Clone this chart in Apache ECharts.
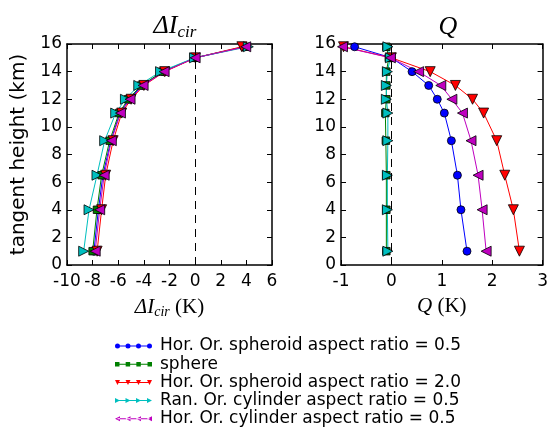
<!DOCTYPE html>
<html>
<head>
<meta charset="utf-8">
<script src="https://cdn.jsdelivr.net/npm/echarts@6/dist/echarts.min.js"></script>
<style>
  html, body { margin: 0; padding: 0; background: #fff; }
  #chart { width: 551px; height: 428px; }
</style>
</head>
<body>
<div id="chart"></div>
<script>
// Tangent heights (km) shared by every profile
const heights = [1, 4, 6.5, 9, 11, 12, 13, 14, 15, 15.8];

// Series names, in plotting order
const names = [
  'Hor. Or. spheroid aspect ratio = 0.5',
  'sphere',
  'Hor. Or. spheroid aspect ratio = 2.0',
  'Ran. Or. cylinder aspect ratio = 0.5',
  'Hor. Or. cylinder aspect ratio = 0.5'
];

// ΔI_cir (K) profiles
const dIcirSpheroid05 = [-7.9, -7.55, -7.2, -6.58, -5.87, -5.15, -4.12, -2.48, 0.0, 3.8];
const dIcirSphere     = [-8.0, -7.66, -7.3, -6.67, -5.94, -5.23, -4.2, -2.55, 0.0, 3.9];
const dIcirSpheroid20 = [-7.65, -7.3, -6.98, -6.4, -5.73, -5.0, -4.0, -2.37, 0.02, 3.65];
const dIcirRanCyl05   = [-8.7, -8.28, -7.66, -7.06, -6.2, -5.44, -4.4, -2.7, -0.05, 4.15];
const dIcirHorCyl05   = [-7.8, -7.45, -7.1, -6.54, -5.83, -5.08, -4.06, -2.42, 0.0, 3.95];

// Q (K) profiles
const qSpheroid05 = [1.50, 1.38, 1.31, 1.19, 1.05, 0.91, 0.74, 0.41, 0.0, -0.73];
const qSphere     = [-0.1, -0.1, -0.1, -0.11, -0.12, -0.1, -0.1, -0.1, -0.05, -0.1];
const qSpheroid20 = [2.54, 2.42, 2.25, 2.09, 1.83, 1.61, 1.27, 0.77, 0.0, -0.95];
const qRanCyl05   = [-0.07, -0.08, -0.08, -0.07, -0.07, -0.1, -0.1, -0.08, -0.02, -0.07];
const qHorCyl05   = [1.88, 1.80, 1.72, 1.58, 1.41, 1.20, 0.98, 0.54, -0.02, -0.97];

const dIcirSets = [dIcirSpheroid05, dIcirSphere, dIcirSpheroid20, dIcirRanCyl05, dIcirHorCyl05];
const qSets = [qSpheroid05, qSphere, qSpheroid20, qRanCyl05, qHorCyl05];

const colors = ['#0000ff', '#008000', '#ff0000', '#00bfbf', '#bf00bf'];

// Marker shapes: circle, square, down / right / left triangles
const symbols = [
  'circle',
  'rect',
  'path://M0,0 L10,0 L5,10 Z',
  'path://M0,0 L10,5 L0,10 Z',
  'path://M10,0 L0,5 L10,10 Z'
];
const symbolSizes = [8, 7.5, 10, 10, 10];

// Legend icons: four small markers strung on a line
function legendIcon(kind) {
  const cs = [2.5, 13, 23.5, 34.5];
  let p = 'M2.5,2 H34.5 V3 H2.5 Z ';
  cs.forEach(c => {
    const l = c - 2.5, r = c + 2.5;
    if (kind === 0) p += `M${l},2.5 A2.5,2.5 0 1,1 ${r},2.5 A2.5,2.5 0 1,1 ${l},2.5 Z `;
    else if (kind === 1) p += `M${l+0.3},0.3 H${r-0.3} V4.7 H${l+0.3} Z `;
    else if (kind === 2) p += `M${l},0 L${r},0 L${c},5 Z `;
    else if (kind === 3) p += `M${l},0 L${r},2.5 L${l},5 Z `;
    else p += `M${r},0 L${l},2.5 L${r},5 Z `;
  });
  return 'path://' + p;
}

const zip = (xs) => xs.map((x, i) => [x, heights[i]]);

const frame = { show: true, onZero: false, lineStyle: { color: '#000', width: 1.5 } };
const ticksIn = { show: true, inside: true, length: 5, lineStyle: { color: '#000', width: 1 } };
const tickLabelX = { color: '#000', fontFamily: 'DejaVu Sans', fontSize: 17, margin: 8 };
const tickLabelY = { color: '#000', fontFamily: 'DejaVu Sans', fontSize: 17, margin: 5 };
const mathFont = 'Liberation Serif';
const mathIt = (size, extra) => Object.assign(
  { fontFamily: mathFont, fontStyle: 'italic', fontWeight: 'normal', fontSize: size, color: '#000' }, extra || {});

function sideAxis(gridIndex, position, min, max, interval) {
  return {
    type: 'value', gridIndex, position, min, max, interval,
    axisLine: frame, axisTick: ticksIn, axisLabel: { show: false },
    splitLine: { show: false }
  };
}

const zeroLine = {
  silent: true,
  symbol: ['none', 'none'],
  label: { show: false },
  lineStyle: { color: '#000', type: [8, 6], width: 1 },
  data: [{ xAxis: 0 }],
  animation: false
};

const series = [];
[dIcirSets, qSets].forEach((sets, panel) => {
  sets.forEach((vals, k) => {
    series.push({
      name: names[k],
      type: 'line',
      xAxisIndex: panel * 2,
      yAxisIndex: panel * 2,
      data: zip(vals),
      symbol: symbols[k],
      symbolSize: symbolSizes[k],
      showAllSymbol: true,
      lineStyle: { color: colors[k], width: 1 },
      itemStyle: { color: colors[k], borderColor: '#000', borderWidth: 0.8 },
      emphasis: { disabled: true },
      animation: false,
      markLine: k === 0 ? zeroLine : undefined
    });
  });
});

const chart = echarts.init(document.getElementById('chart'), null, { renderer: 'canvas' });
chart.setOption({
  backgroundColor: '#fff',
  title: [
    {
      text: '{a|ΔI}{s|cir}',
      left: 170, top: 7, textAlign: 'center',
      textStyle: { fontWeight: 'normal', rich: {
        a: mathIt(26),
        s: mathIt(17, { padding: [12, 0, 0, 0] })
      } }
    },
    {
      text: 'Q',
      left: 443, top: 9, textAlign: 'center',
      textStyle: mathIt(26)
    }
  ],
  grid: [
    { left: 67, top: 44, width: 205, height: 221 },
    { left: 341, top: 44, width: 205, height: 221 }
  ],
  xAxis: [
    {
      type: 'value', gridIndex: 0, position: 'bottom', min: -10, max: 6, interval: 2,
      axisLine: frame, axisTick: ticksIn, axisLabel: tickLabelX, splitLine: { show: false },
      name: '{a|ΔI}{s|cir}{b| (K)}', nameLocation: 'middle', nameGap: 31,
      nameTextStyle: { rich: {
        a: mathIt(21),
        s: mathIt(14, { padding: [9, 0, 0, 0] }),
        b: { fontFamily: mathFont, fontSize: 21, color: '#000' }
      } }
    },
    sideAxis(0, 'top', -10, 6, 2),
    {
      type: 'value', gridIndex: 1, position: 'bottom', min: -1, max: 3, interval: 1,
      axisLine: frame, axisTick: ticksIn, axisLabel: tickLabelX, splitLine: { show: false },
      name: '{a|Q}{b| (K)}', nameLocation: 'middle', nameGap: 31,
      nameTextStyle: { rich: {
        a: mathIt(21),
        b: { fontFamily: mathFont, fontSize: 21, color: '#000' }
      } }
    },
    sideAxis(1, 'top', -1, 3, 1)
  ],
  yAxis: [
    {
      type: 'value', gridIndex: 0, position: 'left', min: 0, max: 16, interval: 2,
      axisLine: frame, axisTick: ticksIn, axisLabel: tickLabelY, splitLine: { show: false },
      name: 'tangent height (km)', nameLocation: 'middle', nameGap: 38, nameRotate: 90,
      nameTextStyle: { fontFamily: 'DejaVu Sans', fontSize: 20, color: '#000' }
    },
    sideAxis(0, 'right', 0, 16, 2),
    {
      type: 'value', gridIndex: 1, position: 'left', min: 0, max: 16, interval: 2,
      axisLine: frame, axisTick: ticksIn, axisLabel: tickLabelY, splitLine: { show: false }
    },
    sideAxis(1, 'right', 0, 16, 2)
  ],
  legend: {
    orient: 'vertical',
    left: 115, top: 337,
    padding: 0,
    itemWidth: 37, itemHeight: 5, itemGap: 0.2,
    selectedMode: false,
    itemStyle: { borderWidth: 0 },
    textStyle: { fontFamily: 'DejaVu Sans', fontSize: 17, color: '#000', lineHeight: 18, padding: [0, 0, 0, 3] },
    data: names.map((n, k) => ({ name: n, icon: legendIcon(k) }))
  },
  series
});
</script>
</body>
</html>
